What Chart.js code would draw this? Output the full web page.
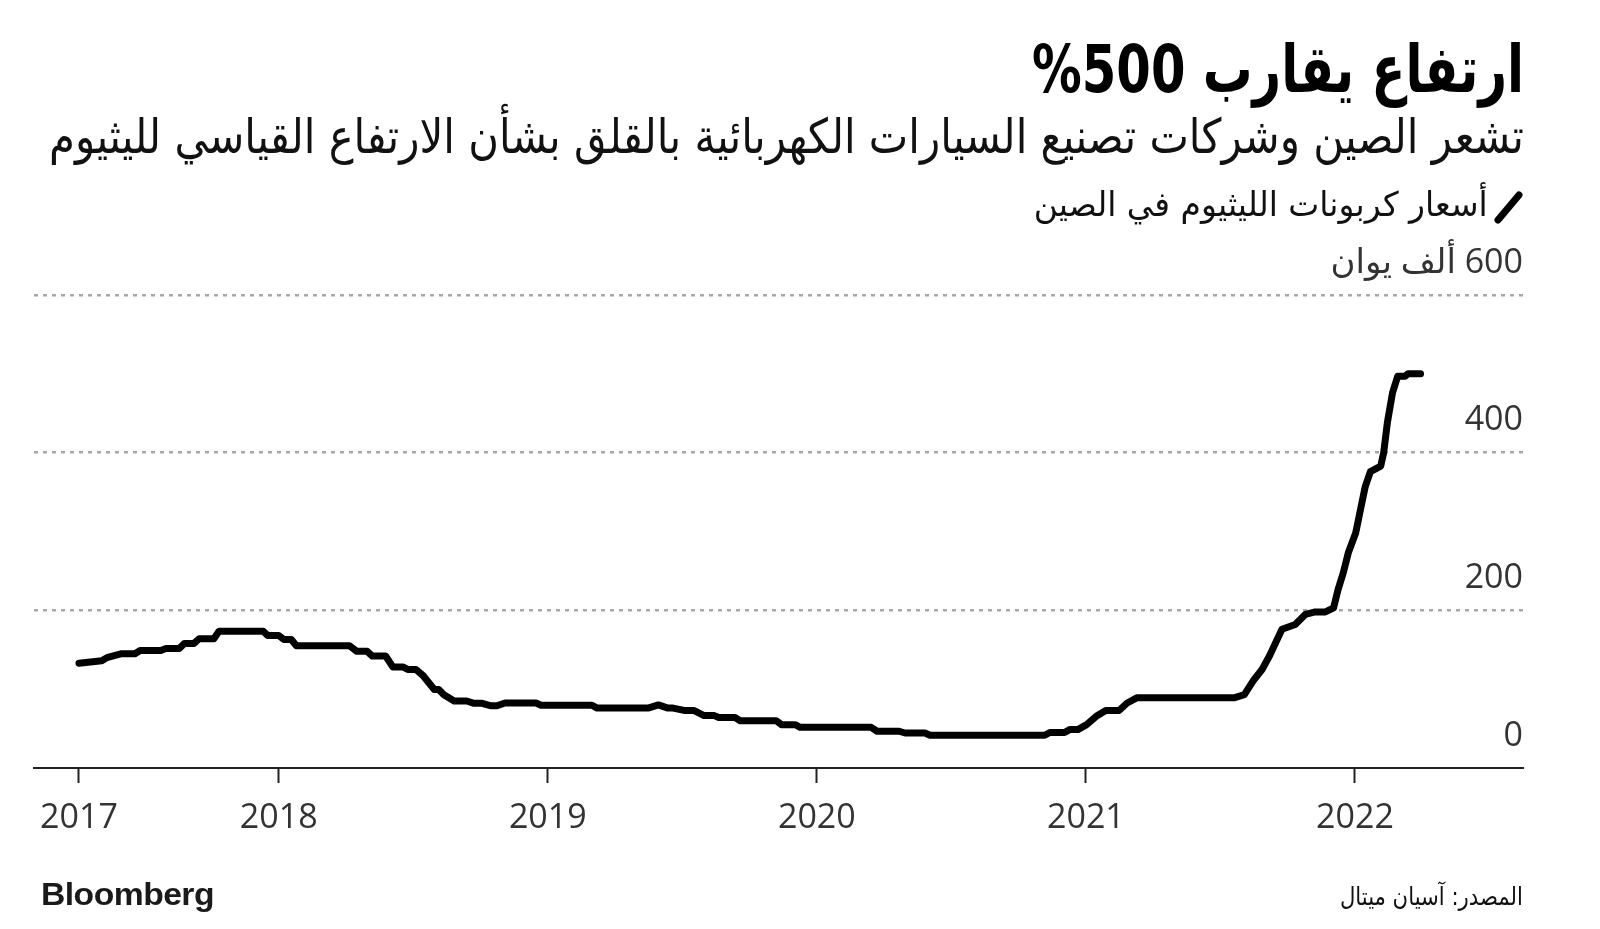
<!DOCTYPE html>
<html>
<head>
<meta charset="utf-8">
<script src="https://cdn.jsdelivr.net/npm/chart.js@4.4.0/dist/chart.umd.min.js"></script>
<style>
  html, body { margin:0; padding:0; background:#fff; }
  body { width:1600px; height:929px; position:relative; overflow:hidden; }
  #chart { position:absolute; left:0; top:0; }
  .t { position:absolute; white-space:nowrap; line-height:1; color:#000; }
  .r { transform-origin: right top; }
  .l { transform-origin: left top; }
  #title { right:76px; top:37px; font-family:"DejaVu Sans"; font-weight:bold; font-size:66px; }
  #subtitle { right:76px; top:112px; font-family:"DejaVu Sans"; font-size:48px; color:#111; }
  #legend { right:112px; top:187px; font-family:"DejaVu Sans"; font-size:34px; color:#111; }
  #source { right:77px; top:884px; font-family:"DejaVu Sans"; font-size:25px; color:#111; }
  #brand { left:41px; top:879px; font-family:"Liberation Sans"; font-weight:bold; font-size:31px; color:#1a1a1a; letter-spacing:-0.5px; }
  #icon { position:absolute; left:1492px; top:189px; }
</style>
</head>
<body>
<canvas id="chart" width="1600" height="929"></canvas>
<div id="title" class="t r" dir="rtl">ارتفاع يقارب 500%</div>
<div id="subtitle" class="t r" dir="rtl">تشعر الصين وشركات تصنيع السيارات الكهربائية بالقلق بشأن الارتفاع القياسي لليثيوم</div>
<div id="legend" class="t r" dir="rtl">أسعار كربونات الليثيوم في الصين</div>
<svg id="icon" width="32" height="36" viewBox="0 0 32 36"><line x1="6" y1="31" x2="27" y2="6" stroke="#000" stroke-width="7" stroke-linecap="round"/></svg>
<div id="source" class="t r" dir="rtl">المصدر: آسيان ميتال</div>
<div id="brand" class="t l">Bloomberg</div>
<script>
// ---- data (lithium carbonate price, China, thousand yuan) ----
const dates = [
'2017-04-05','2017-05-06','2017-05-13','2017-06-02','2017-06-20','2017-06-27','2017-07-25','2017-08-01',
'2017-08-19','2017-08-26','2017-09-08','2017-09-15','2017-10-05','2017-10-12','2017-12-11','2017-12-17',
'2018-01-01','2018-01-08','2018-01-18','2018-01-25','2018-04-07','2018-04-17','2018-05-01','2018-05-08',
'2018-05-26','2018-06-05','2018-06-19','2018-06-25','2018-07-06','2018-07-16','2018-07-31','2018-08-06',
'2018-08-13','2018-08-27','2018-09-13','2018-09-23','2018-10-04','2018-10-15','2018-10-24','2018-11-04',
'2018-12-16','2018-12-23','2019-03-02','2019-03-09','2019-05-17','2019-05-31','2019-06-13','2019-06-20',
'2019-07-05','2019-07-18','2019-08-01','2019-08-15','2019-08-21','2019-09-12','2019-09-19','2019-11-07',
'2019-11-14','2019-12-03','2019-12-09','2020-03-15','2020-03-23','2020-04-22','2020-04-30','2020-05-27',
'2020-06-03','2020-11-06','2020-11-13','2020-12-03','2020-12-10','2020-12-21','2021-01-02','2021-01-15',
'2021-01-28','2021-02-15','2021-02-26','2021-03-11','2021-07-21','2021-08-04','2021-08-17','2021-08-28',
'2021-09-07','2021-09-24','2021-10-12','2021-10-26','2021-11-08','2021-11-22','2021-12-03','2021-12-09',
'2021-12-16','2021-12-23','2022-01-02','2022-01-09','2022-01-15','2022-01-22','2022-02-05','2022-02-09',
'2022-02-14','2022-02-21','2022-02-28','2022-03-10','2022-03-14','2022-03-31'
];
const prices = [
133,136,140,145,145,149,149,151.5,
151.5,158,158,164,164,173.5,173.5,168,
168,163,163,155,155,148,148,142,
142,128,128,125,125,117,99.5,99.5,
93,85,85,82,82,79,79,82.5,
82.5,79.6,79.6,76,76,80,76,76,
73,73,66.5,66.5,64,64,60,60,
55,55,51.6,51.6,46.6,46.6,44.4,44.4,
41.5,41.5,45,45,48.7,48.7,55,65.6,
73,73,82.5,89,89,93,112,125,
142,176,182,195,198,198,203,226,
247,273,298,330,357,376,383,400,
438,476,497,497,500,500
];
const xTickDates = ['2017-04-05','2018-01-01','2019-01-01','2020-01-01','2021-01-01','2022-01-01'];
const xTickLabels = ['2017','2018','2019','2020','2021','2022'];
const xMinDate = '2017-02-03';
const xMaxDate = '2022-08-17';
const yTickValues = [0, 200, 400, 600];
const yTickLabels = ['0', '200', '400', 'ألف يوان \u200E600'];

function toYear(d) {
  const [y, m, dd] = d.split('-').map(Number);
  const s = Date.UTC(y, 0, 1), e = Date.UTC(y + 1, 0, 1);
  return y + (Date.UTC(y, m - 1, dd) - s) / (e - s);
}

const points = dates.map((d, i) => ({ x: toYear(d), y: prices[i] }));
const tickFont = { family: "'Open Sans', 'DejaVu Sans'", size: 34 };

new Chart(document.getElementById('chart'), {
  type: 'line',
  data: { datasets: [{
    data: points,
    borderColor: '#000',
    borderWidth: 7,
    pointRadius: 0,
    tension: 0,
    borderJoinStyle: 'round',
    borderCapStyle: 'round',
    fill: false
  }]},
  options: {
    responsive: false,
    animation: false,
    devicePixelRatio: 1,
    layout: { padding: { top: 295, left: 34, right: 0, bottom: 0 } },
    plugins: { legend: { display: false }, tooltip: { enabled: false }, title: { display: false } },
    scales: {
      x: {
        type: 'linear',
        min: toYear(xMinDate),
        max: toYear(xMaxDate),
        afterBuildTicks: s => { s.ticks = xTickDates.map(d => ({ value: toYear(d) })); },
        afterFit: s => { s.height = 161; },
        ticks: {
          autoSkip: false, maxRotation: 0, padding: 15,
          color: '#333', font: tickFont,
          callback: (v, i) => xTickLabels[i]
        },
        grid: { drawOnChartArea: false, drawTicks: true, tickLength: 15, tickColor: '#222', tickWidth: 2 },
        border: { display: true, color: '#222', width: 2 }
      },
      y: {
        position: 'right',
        min: 0, max: 600,
        afterBuildTicks: s => { s.ticks = yTickValues.map(v => ({ value: v })); },
        afterFit: s => { s.width = 77; },
        ticks: {
          mirror: true, padding: 0, labelOffset: -32,
          color: '#333', font: tickFont,
          callback: (v, i) => yTickLabels[i]
        },
        grid: {
          drawTicks: false,
          lineWidth: 2.5,
          color: c => (c.tick && c.tick.value === 0) ? 'rgba(0,0,0,0)' : '#a8a8a8'
        },
        border: { display: false, dash: [4, 5] }
      }
    }
  }
});

function fitW(id, w) {
  const el = document.getElementById(id);
  el.style.transform = 'none';
  const nat = el.getBoundingClientRect().width;
  el.style.transform = 'scaleX(' + (w / nat) + ')';
}
fitW('title', 492);
fitW('subtitle', 1475);
fitW('legend', 454);
fitW('source', 183);
fitW('brand', 173);
</script>
</body>
</html>
